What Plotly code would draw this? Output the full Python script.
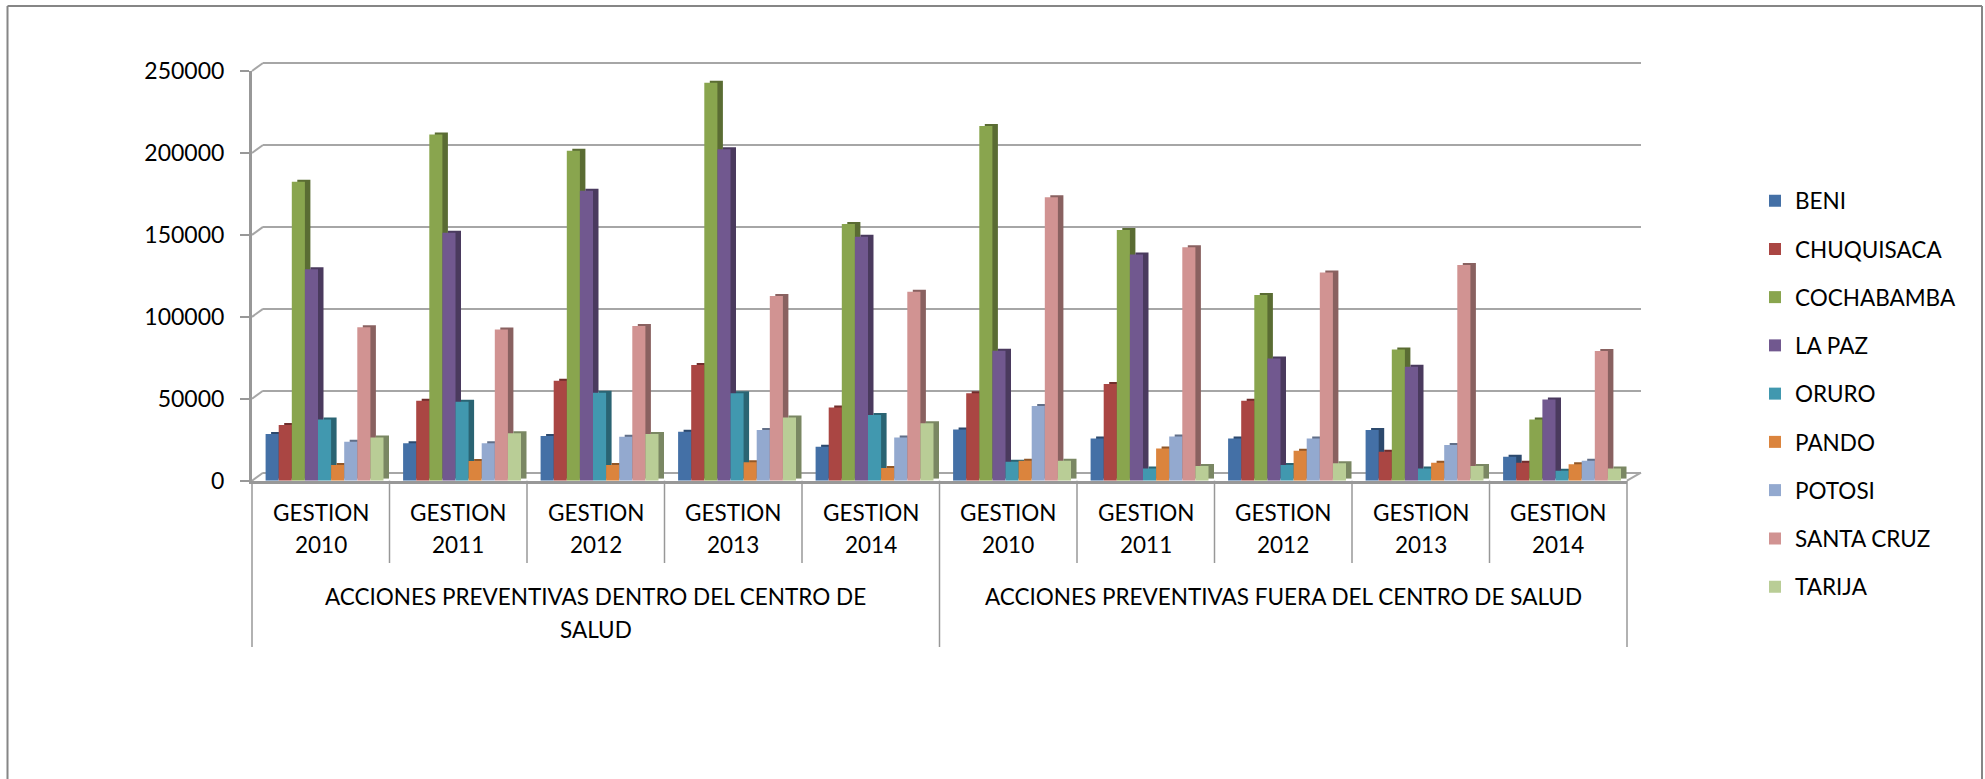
import plotly.graph_objects as go

GROUP_LABELS = [["ACCIONES PREVENTIVAS DENTRO DEL CENTRO DE", "SALUD"],
                ["ACCIONES PREVENTIVAS FUERA DEL CENTRO DE SALUD"]]
YEARS = ["2010", "2011", "2012", "2013", "2014", "2010", "2011", "2012", "2013", "2014"]
PREFIX = "GESTION"
YTICKS = [0, 50000, 100000, 150000, 200000, 250000]

SERIES = ["BENI", "CHUQUISACA", "COCHABAMBA", "LA PAZ", "ORURO", "PANDO", "POTOSI", "SANTA CRUZ", "TARIJA"]
BENI       = [28500, 22800, 27300, 29900, 20700, 31300, 25800, 25800, 30900, 14600]
CHUQUISACA = [34000, 48800, 61000, 70600, 44700, 53300, 59000, 48800, 17700, 11000]
COCHABAMBA = [182400, 211300, 201400, 242900, 156600, 216400, 153000, 113300, 80100, 37400]
LA_PAZ     = [129000, 151300, 177000, 202200, 148900, 79300, 138100, 74600, 69600, 49600]
ORURO      = [37400, 48200, 53700, 53300, 40100, 11600, 7500, 9600, 7500, 6100]
PANDO      = [9600, 12000, 9600, 11200, 7700, 12200, 19700, 18300, 11000, 10000]
POTOSI     = [23800, 22800, 26800, 30900, 26400, 45600, 26900, 25800, 21800, 12200]
SANTA_CRUZ = [93600, 92300, 94400, 112700, 115300, 172900, 142400, 127100, 131600, 79100]
TARIJA     = [26400, 28900, 28500, 38600, 35000, 12200, 8900, 10600, 8900, 7500]
VALUES = [BENI, CHUQUISACA, COCHABAMBA, LA_PAZ, ORURO, PANDO, POTOSI, SANTA_CRUZ, TARIJA]
COLORS = ["#4470A6", "#AA4643", "#89A54E", "#71588F", "#4198AF", "#DB843D", "#93A9CF", "#D19392", "#B9CD96"]

W, H = 1985, 779
X0, X1, Y_TOP, Y_BASE = 252, 1627, 71, 480.7
CAT = (X1 - X0) / 10
FONT = "Lato"
FS = 22.5
TICK_FS = 23
GRID = "#A6A6A6"
AXIS = "#989898"
FRAME = "#868686"


def px(x):
    return x / W


def py(y):
    return 1 - y / H


def darken(c, f=0.66):
    r, g, b = int(c[1:3], 16), int(c[3:5], 16), int(c[5:7], 16)
    return "rgb(%d,%d,%d)" % (r * f, g * f, b * f)


fig = go.Figure()
BAR_W = 13.1
LEAD = 13.6
xs = list(range(10))
# back wall axes are the first subplot, so they sit under everything
fig.add_trace(go.Scatter(x=[0], y=[0], xaxis="x", yaxis="y", mode="markers",
                         marker=dict(opacity=0), showlegend=False, hoverinfo="skip"))
# side faces on shifted axes
for j, (name, vals, col) in enumerate(zip(SERIES, VALUES, COLORS)):
    fig.add_trace(go.Bar(x=xs, y=vals, name=name, xaxis="x2", yaxis="y2", showlegend=False,
                         marker=dict(color=darken(col), line=dict(width=0)),
                         width=BAR_W / CAT, offset=(LEAD + j * BAR_W) / CAT, hoverinfo="skip"))
# front faces
for j, (name, vals, col) in enumerate(zip(SERIES, VALUES, COLORS)):
    fig.add_trace(go.Bar(x=xs, y=vals, name=name, xaxis="x3", yaxis="y3", legendgroup=name,
                         marker=dict(color=col, line=dict(width=0)),
                         width=BAR_W / CAT, offset=(LEAD + j * BAR_W) / CAT))

shapes = []


def line(x0, y0, x1, y1, color=AXIS, width=2):
    shapes.append(dict(type="line", xref="paper", yref="paper", x0=px(x0), y0=py(y0), x1=px(x1), y1=py(y1),
                       line=dict(color=color, width=width), layer="above"))


# outer frame
line(7.5, 779, 7.5, 6, FRAME, 2)
line(7.5, 6, 1982, 6, FRAME, 2)
line(1982, 6, 1982, 779, FRAME, 2)
# wall-to-front connectors
SCALE = (Y_BASE - Y_TOP) / 250000
for t in YTICKS:
    yy = Y_BASE - t * SCALE
    line(X0, yy, X0 + 11, yy - 8, GRID, 2)
line(X1, Y_BASE, X1 + 14, Y_BASE - 8, GRID, 2)
# category dividers
for i in range(11):
    bottom = 647 if i in (0, 5, 10) else 563
    line(X0 + i * CAT, Y_BASE, X0 + i * CAT, bottom, AXIS, 1.5)

ann = []


def text(xval, y, s):
    ann.append(dict(x=xval, xref="x3", y=py(y), yref="paper", text=s, showarrow=False,
                    xanchor="center", yanchor="middle", font=dict(family=FONT, size=FS, color="#000000")))


for i, yr in enumerate(YEARS):
    text(i + 0.5, 512.5, PREFIX)
    text(i + 0.5, 544.5, yr)
for i, lines in enumerate(GROUP_LABELS):
    for k, s in enumerate(lines):
        text(2.5 + 5 * i, 596 + 33.5 * k, s)

hidden = dict(showgrid=False, zeroline=False, showticklabels=False, ticks="", showline=False, automargin=False)
PAD = 3  # px of slack so the first and last wall lines are not clipped
PAD_V = PAD * 250000 / 410
fig.update_layout(
    template="none",
    width=W, height=H, margin=dict(l=0, r=0, t=0, b=0, pad=0), autosize=False,
    paper_bgcolor="#FFFFFF", plot_bgcolor="rgba(0,0,0,0)",
    barmode="overlay", shapes=shapes, annotations=ann,
    font=dict(family=FONT, size=FS, color="#000000"),
    xaxis=dict(domain=[px(263), px(1641)], range=[0, 10], anchor="y", **hidden),
    yaxis=dict(domain=[py(472.7 + PAD), py(62.7 - PAD)], range=[-PAD_V, 250000 + PAD_V], anchor="x", tickvals=YTICKS,
               showgrid=True, gridcolor=GRID, gridwidth=2, zeroline=False, showticklabels=False, ticks="",
               showline=False, automargin=False),
    xaxis2=dict(domain=[px(X0 + 5.5), px(X1 + 5.5)], range=[0, 10], anchor="y2", **hidden),
    yaxis2=dict(domain=[py(Y_BASE - 2), py(Y_TOP - 2)], range=[0, 250000], anchor="x2", **hidden),
    xaxis3=dict(domain=[px(X0), px(X1)], range=[0, 10], anchor="y3", showgrid=False, zeroline=False,
                showticklabels=False, ticks="", showline=True, linecolor=AXIS, linewidth=3, automargin=False),
    yaxis3=dict(domain=[py(Y_BASE), py(Y_TOP)], range=[0, 250000], anchor="x3", tickvals=YTICKS,
                tickformat="d", showgrid=False, zeroline=False, showline=True, linecolor=AXIS, linewidth=3,
                ticks="outside", ticklen=9, tickcolor=AXIS, tickwidth=2, ticklabelstandoff=11, automargin=False,
                tickfont=dict(family=FONT, size=TICK_FS, color="#000000")),
    legend=dict(x=px(1766), y=py(179.5), xanchor="left", yanchor="top", tracegroupgap=16, indentation=-11,
                bgcolor="rgba(0,0,0,0)", font=dict(family=FONT, size=FS, color="#000000"),
                itemclick=False, itemdoubleclick=False),
)
fig.write_html("out.html", config={"displayModeBar": False}, post_script="document.body.style.margin='0';")
